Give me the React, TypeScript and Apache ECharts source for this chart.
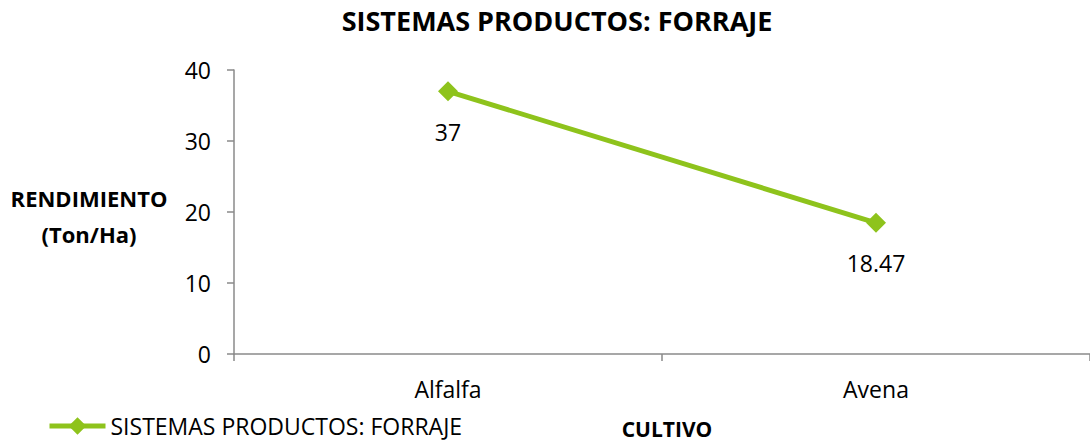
import React, { useEffect, useRef } from "react";
import * as echarts from "echarts";

const categories = ["Alfalfa", "Avena"];
const values = [37, 18.47];
const seriesName = "SISTEMAS PRODUCTOS: FORRAJE";
const yTicks = { min: 0, max: 40, interval: 10 };

export default function App() {
  const ref = useRef<HTMLDivElement>(null);
  useEffect(() => {
    const chart = echarts.init(ref.current!, null, { renderer: "svg" });
    const font = "'Open Sans', 'Liberation Sans', sans-serif";
    const green = "#8EC31C";
    chart.setOption({
      animation: false,
      textStyle: { fontFamily: font },
      title: {
        text: "SISTEMAS PRODUCTOS: FORRAJE",
        left: 552,
        textAlign: "center",
        top: -1,
        textStyle: { fontSize: 27, fontWeight: "bold", color: "#000", fontFamily: font, lineHeight: 32 },
      },
      legend: {
        left: 42,
        top: 409,
        itemWidth: 56,
        itemHeight: 22,
        itemGap: 0,
        lineStyle: { width: 5 },
        textStyle: { fontSize: 23, color: "#000", fontFamily: font, lineHeight: 24 },
        data: [seriesName],
      },
      grid: { left: 234, top: 70, width: 862, height: 284, containLabel: false },
      xAxis: {
        type: "category",
        data: categories,
        boundaryGap: true,
        axisLine: { lineStyle: { color: "#8a8a8a", width: 1.5 } },
        axisTick: { show: true, length: 7, lineStyle: { color: "#8a8a8a", width: 1.5 } },
        axisLabel: { fontSize: 23, color: "#000", margin: 23, fontFamily: font },
      },
      yAxis: {
        type: "value",
        min: yTicks.min,
        max: yTicks.max,
        interval: yTicks.interval,
        axisLine: { show: true, lineStyle: { color: "#8a8a8a", width: 1.5 } },
        axisTick: { show: true, length: 7, lineStyle: { color: "#8a8a8a", width: 1.5 } },
        splitLine: { show: false },
        axisLabel: { fontSize: 23, color: "#000", margin: 23, fontFamily: font },
      },
      graphic: [
        {
          type: "text",
          x: 89,
          y: 216,
          style: {
            text: "RENDIMIENTO\n(Ton/Ha)",
            fontSize: 22,
            fontWeight: "bold",
            fill: "#000",
            fontFamily: font,
            lineHeight: 36,
            align: "center",
            verticalAlign: "middle",
          },
        },
        {
          type: "text",
          x: 667,
          y: 429,
          style: {
            text: "CULTIVO",
            fontSize: 21,
            fontWeight: "bold",
            fill: "#000",
            fontFamily: font,
            align: "center",
            verticalAlign: "middle",
          },
        },
      ],
      series: [
        {
          name: seriesName,
          type: "line",
          data: values,
          symbol: "diamond",
          symbolSize: 20,
          lineStyle: { color: green, width: 5 },
          itemStyle: { color: green },
          label: {
            show: true,
            position: "bottom",
            distance: 19,
            fontSize: 23,
            color: "#000",
            fontFamily: font,
          },
        },
      ],
    });
    return () => chart.dispose();
  }, []);
  return (
    <div
      ref={ref}
      style={{ position: "absolute", left: 0, top: 0, width: 1090, height: 442 }}
    />
  );
}
